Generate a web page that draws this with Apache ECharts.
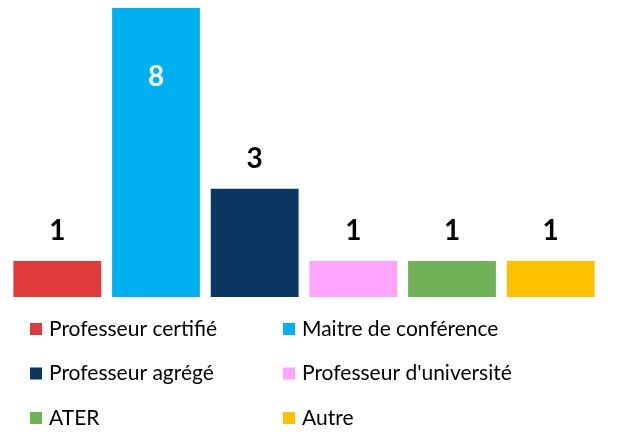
<!DOCTYPE html>
<html>
<head>
<meta charset="utf-8">
<script src="https://cdn.jsdelivr.net/npm/echarts@6/dist/echarts.min.js"></script>
<style>
  html, body { margin: 0; padding: 0; background: #fff; }
  #chart { width: 618px; height: 432px; }
</style>
</head>
<body>
<div id="chart"></div>
<script>
// données
const categories = ["Professeur certifié", "Maitre de conférence", "Professeur agrégé",
  "Professeur d'université", "ATER", "Autre"];
const values = [1, 8, 3, 1, 1, 1];
const colors = ["#E03A3C", "#00B0F0", "#0A3661", "#FFA5FF", "#70B257", "#FFC000"];

const font = "Lato, 'Open Sans', sans-serif";

// une série par catégorie, empilées pour garder toute la largeur de la bande
const series = categories.map((name, i) => {
  const data = categories.map((c, j) => (j === i ? values[i] : null));
  const inside = values[i] === Math.max(...values);
  return {
    name: name,
    type: "bar",
    stack: "total",
    barCategoryGap: "11%",
    itemStyle: { color: colors[i] },
    data: data,
    label: {
      show: true,
      position: inside ? "insideTop" : "top",
      distance: inside ? 55 : 16,
      color: inside ? "#fff" : "#000",
      fontSize: 28,
      fontWeight: "bold",
      fontFamily: font,
    },
  };
});

const legendBase = {
  orient: "vertical",
  icon: "rect",
  itemWidth: 12,
  itemHeight: 12,
  itemGap: 20.5,
  top: 317,
  height: 115,
  padding: 0,
  textStyle: { fontSize: 21, fontFamily: font, color: "#000", lineHeight: 24, padding: [0, 0, 0, 2] },
};

const option = {
  animation: false,
  grid: { left: 8, right: 18, top: 8, bottom: 135, containLabel: false },
  xAxis: {
    type: "category",
    data: categories,
    axisLine: { show: false },
    axisTick: { show: false },
    axisLabel: { show: false },
  },
  yAxis: {
    type: "value",
    min: 0,
    max: 8,
    show: false,
    splitLine: { show: false },
  },
  legend: [
    Object.assign({}, legendBase, { left: 30, data: [categories[0], categories[2], categories[4]] }),
    Object.assign({}, legendBase, { left: 283, data: [categories[1], categories[3], categories[5]] }),
  ],
  series: series,
};

const chart = echarts.init(document.getElementById("chart"));
chart.setOption(option);
</script>
</body>
</html>
